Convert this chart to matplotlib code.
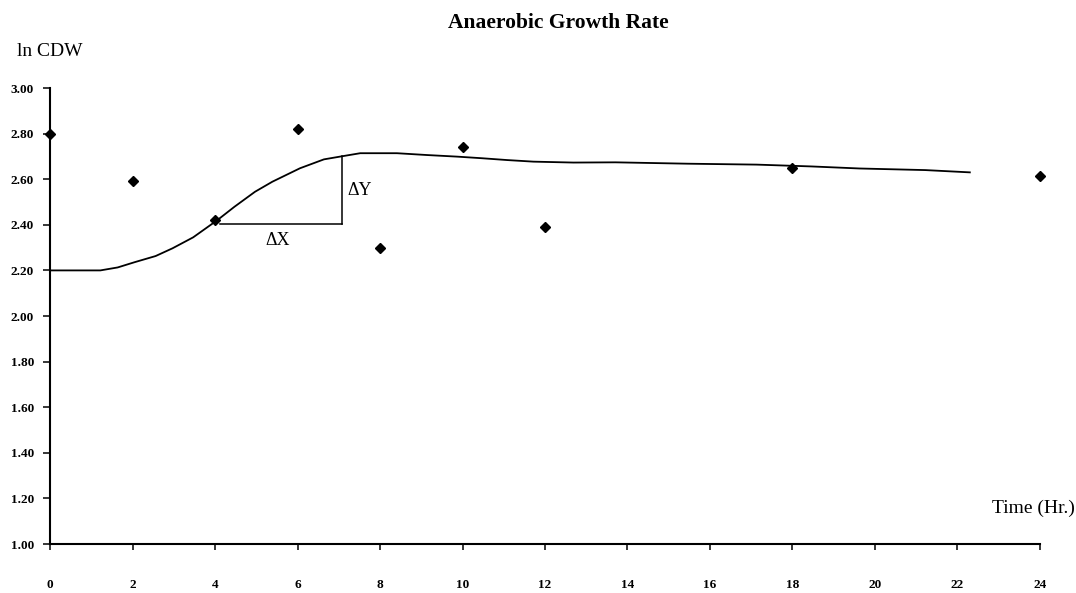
import matplotlib
matplotlib.use("Agg")
import matplotlib.pyplot as plt

# Measured ln(CDW) values
time_hr = [0, 2, 4, 6, 8, 10, 12, 18, 24]
ln_cdw = [2.80, 2.59, 2.42, 2.82, 2.30, 2.74, 2.39, 2.65, 2.615]

# Hand-fitted growth curve
curve_t = [0.0, 1.22, 1.64, 2.05, 2.56, 2.97, 3.47, 4.06, 4.47, 4.97, 5.39,
           6.06, 6.64, 7.06, 7.52, 8.41, 9.14, 9.87, 10.47, 11.08, 11.72,
           12.69, 13.71, 15.46, 17.13, 18.46, 19.63, 21.22, 22.30]
curve_y = [2.20, 2.20, 2.213, 2.236, 2.263, 2.297, 2.345, 2.421, 2.479, 2.545,
           2.589, 2.648, 2.687, 2.700, 2.714, 2.714, 2.706, 2.699, 2.692,
           2.684, 2.677, 2.673, 2.674, 2.668, 2.664, 2.656, 2.647, 2.640,
           2.630]

# Slope triangle
dx_start, dx_end = 4.12, 7.08
dy_low, dy_high = 2.405, 2.700

x_ticks = list(range(0, 25, 2))
y_ticks = [1.00, 1.20, 1.40, 1.60, 1.80, 2.00, 2.20, 2.40, 2.60, 2.80, 3.00]

serif = ["Liberation Serif", "DejaVu Serif"]
plt.rcParams["font.family"] = serif

fig = plt.figure(figsize=(10.76, 5.93), dpi=100)
ax = fig.add_axes([0.0465, 0.0826, 0.9200, 0.7690])

ax.plot(curve_t, curve_y, color="black", lw=1.3)
ax.plot([dx_start, dx_end], [dy_low, dy_low], color="black", lw=1.1)
ax.plot([dx_end, dx_end], [dy_low, dy_high], color="black", lw=1.1)
ax.plot(time_hr, ln_cdw, linestyle="none", marker="D", markersize=5.2,
        color="black", clip_on=False)

ax.text(5.52, 2.33, "ΔX", ha="center", va="center", fontsize=13)
ax.text(7.22, 2.55, "ΔY", ha="left", va="center", fontsize=13)

ax.set_xlim(0, 24)
ax.set_ylim(1.0, 3.0)
ax.set_xticks(x_ticks)
ax.set_yticks(y_ticks)
ax.set_xticklabels([str(t) for t in x_ticks], fontsize=9.5, fontweight="bold")
ax.set_yticklabels([f"{v:.2f}" for v in y_ticks], fontsize=9.5,
                   fontweight="bold")
ax.tick_params(axis="x", direction="out", length=4, width=1.1, pad=21)
ax.tick_params(axis="y", direction="out", length=5, width=1.1, pad=6.5)

for side in ("top", "right"):
    ax.spines[side].set_visible(False)
for side in ("left", "bottom"):
    ax.spines[side].set_linewidth(1.5)

fig.text(0.519, 0.961, "Anaerobic Growth Rate", ha="center", va="center",
         fontsize=15.5, fontweight="bold")
fig.text(0.016, 0.913, "ln CDW", ha="left", va="center", fontsize=14)
fig.text(0.999, 0.143, "Time (Hr.)", ha="right", va="center", fontsize=14)

fig.savefig("out.png", dpi=100, facecolor="white")
